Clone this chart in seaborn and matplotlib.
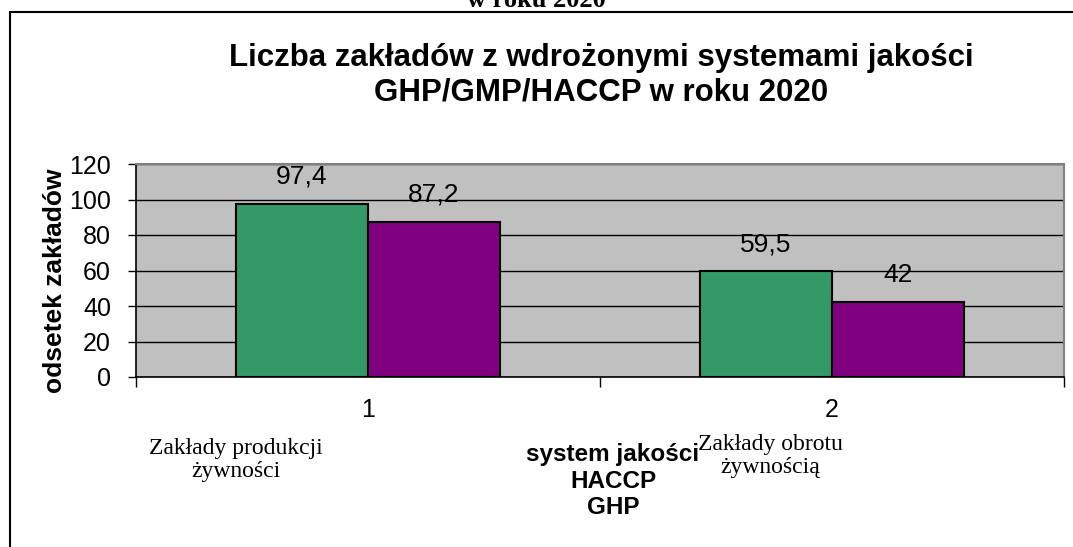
import matplotlib
matplotlib.use("Agg")
import matplotlib.pyplot as plt
import seaborn as sns
import pandas as pd
from matplotlib.lines import Line2D

# data
categories = ["1", "2"]
series = ["HACCP", "GHP"]
haccp = [97.4, 59.5]
ghp = [87.2, 42]
value_labels = [["97,4", "59,5"], ["87,2", "42"]]
cat_names = ["Zakłady produkcji\nżywności", "Zakłady obrotu\nżywnością"]

df = pd.DataFrame({
    "kategoria": categories * 2,
    "system": [series[0]] * 2 + [series[1]] * 2,
    "odsetek": haccp + ghp,
})

sns.set_style("white")
plt.rcParams["font.family"] = ["Liberation Sans", "DejaVu Sans"]
plt.rcParams["text.color"] = "black"
plt.rcParams["axes.labelcolor"] = "black"

fig = plt.figure(figsize=(10.73, 5.47), dpi=100)
ax = fig.add_axes([136 / 1073, 1 - 377 / 547, 928 / 1073, 213 / 547])

sns.barplot(data=df, x="kategoria", y="odsetek", hue="system",
            palette=["#339966", "#800080"], width=0.57, gap=0,
            edgecolor="black", linewidth=1.5, saturation=1,
            legend=False, ax=ax, zorder=3)

ax.set_facecolor("#c0c0c0")
ax.set_xlim(-0.5, 1.5)
ax.set_ylim(0, 120)
ax.set_yticks(range(0, 121, 20))
ax.yaxis.grid(True, color="black", linewidth=1, zorder=1)
ax.set_axisbelow(True)
ax.tick_params(axis="y", labelsize=18, length=6, width=1, direction="out",
               left=True, pad=12, colors="black")

# category boundary ticks, labels centred on groups
ax.set_xticks([-0.5, 0.5, 1.5])
ax.set_xticklabels(["", "", ""])
ax.set_xticks([0, 1], minor=True)
ax.set_xticklabels(categories, minor=True, fontsize=18, color="black")
ax.tick_params(axis="x", which="major", length=7, width=1, bottom=True,
               color="black")
ax.tick_params(axis="x", which="minor", length=0, pad=15)

for side in ["left", "bottom"]:
    ax.spines[side].set_color("black")
    ax.spines[side].set_linewidth(1.2)
for side in ["top", "right"]:
    ax.spines[side].set_color("#808080")
    ax.spines[side].set_linewidth(1.5)

# value labels above the bars
for cont, labs in zip(ax.containers, value_labels):
    ax.bar_label(cont, labels=labs, padding=11, fontsize=19, color="black")

ax.set_xlabel("")
ax.set_ylabel("odsetek zakładów", fontsize=19, fontweight="bold")
ax.yaxis.set_label_coords(-0.074, 0.45)

fig.text(601 / 1073, 1 - 75 / 547,
         "Liczba zakładów z wdrożonymi systemami jakości\nGHP/GMP/HACCP w roku 2020",
         ha="center", va="center", fontsize=22.5, fontweight="bold", linespacing=1.2)

fig.text(613 / 1073, 1 - 481 / 547, "system jakości\nHACCP\nGHP",
         ha="center", va="center", fontsize=17.5, fontweight="bold", linespacing=1.22)

serif = ["Liberation Serif", "DejaVu Serif"]
fig.text(236 / 1073, 1 - 460 / 547, cat_names[0], ha="center", va="center",
         fontsize=17, family=serif, linespacing=1.1)
fig.text(770 / 1073, 1 - 456 / 547, cat_names[1], ha="center", va="center",
         fontsize=17, family=serif, linespacing=1.15)

# cut-off heading at the very top
fig.text(536 / 1073, 1 - 7 / 547, "w roku 2020", ha="center", va="baseline",
         fontsize=19, fontweight="bold", family=serif)

# outer frame, only left and top edges visible
fig.add_artist(Line2D([10 / 1073, 10 / 1073], [0, 1 - 12 / 547],
                      color="black", linewidth=1.5, transform=fig.transFigure))
fig.add_artist(Line2D([10 / 1073, 1], [1 - 12 / 547, 1 - 12 / 547],
                      color="black", linewidth=1.5, transform=fig.transFigure))

fig.savefig("out.png", dpi=100)
